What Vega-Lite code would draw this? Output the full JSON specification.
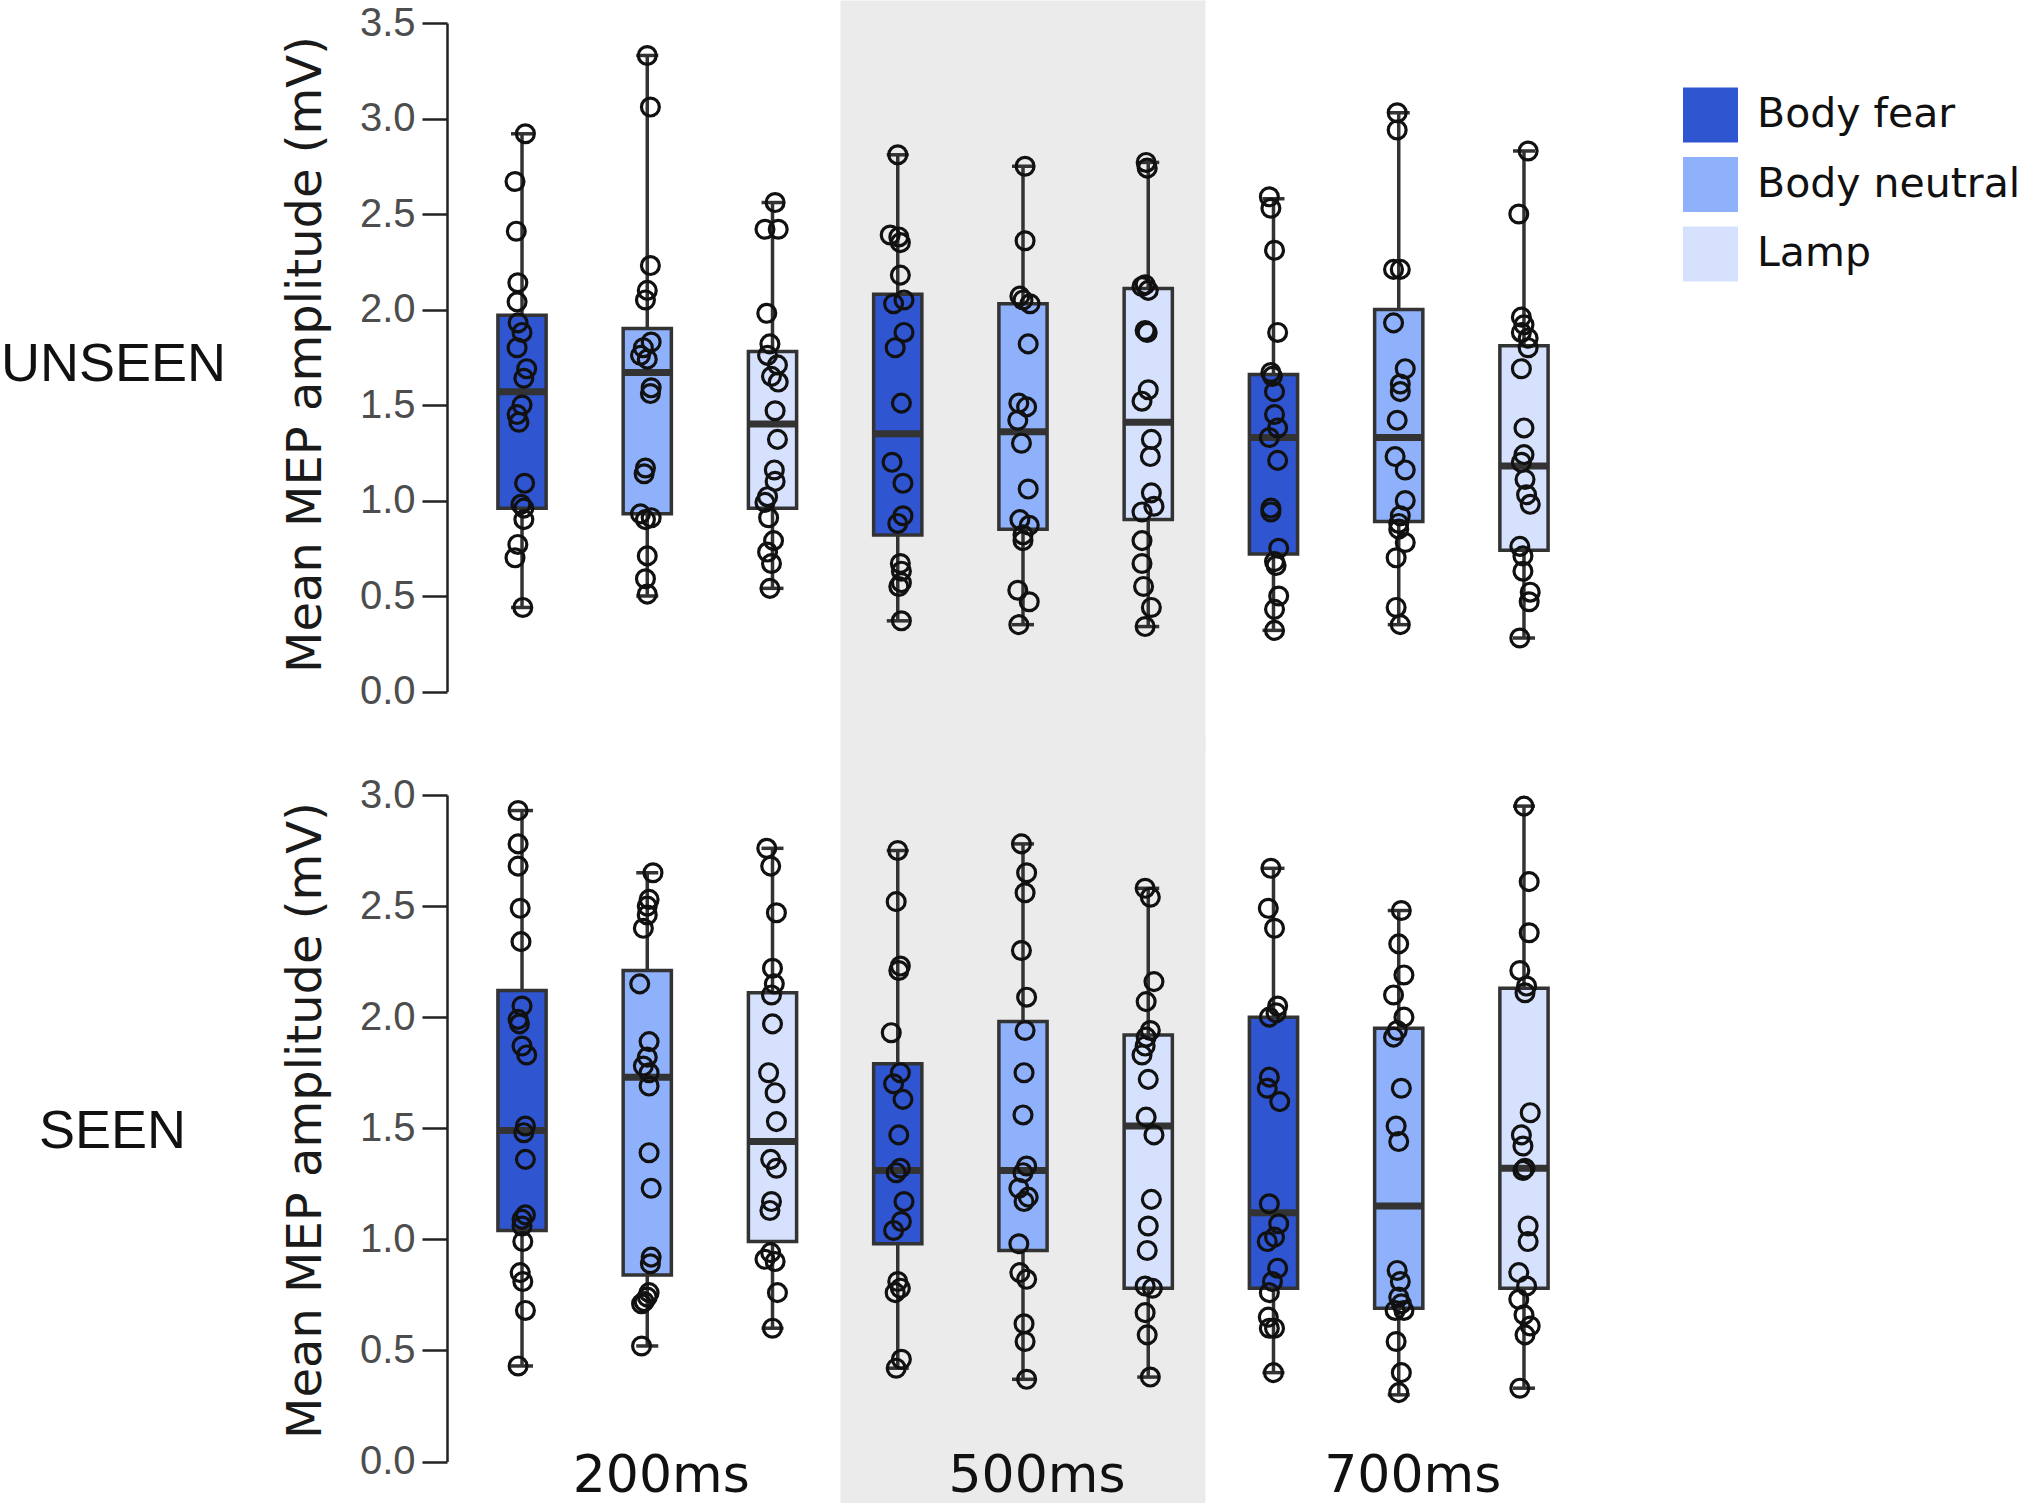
{
  "$schema": "https://vega.github.io/schema/vega-lite/v6.json",
  "padding": 0,
  "background": "#ffffff",
  "datasets": {
    "boxes": [
      {"vis": "UNSEEN", "delay": "200ms", "cond": "Body fear", "grp": "200ms Body fear", "lo": 0.44, "q1": 0.96, "med": 1.57, "q3": 1.97, "hi": 2.92},
      {"vis": "UNSEEN", "delay": "200ms", "cond": "Body neutral", "grp": "200ms Body neutral", "lo": 0.50, "q1": 0.93, "med": 1.67, "q3": 1.90, "hi": 3.33},
      {"vis": "UNSEEN", "delay": "200ms", "cond": "Lamp", "grp": "200ms Lamp", "lo": 0.54, "q1": 0.96, "med": 1.40, "q3": 1.78, "hi": 2.56},
      {"vis": "UNSEEN", "delay": "500ms", "cond": "Body fear", "grp": "500ms Body fear", "lo": 0.37, "q1": 0.82, "med": 1.35, "q3": 2.08, "hi": 2.81},
      {"vis": "UNSEEN", "delay": "500ms", "cond": "Body neutral", "grp": "500ms Body neutral", "lo": 0.35, "q1": 0.85, "med": 1.36, "q3": 2.03, "hi": 2.75},
      {"vis": "UNSEEN", "delay": "500ms", "cond": "Lamp", "grp": "500ms Lamp", "lo": 0.34, "q1": 0.90, "med": 1.41, "q3": 2.11, "hi": 2.77},
      {"vis": "UNSEEN", "delay": "700ms", "cond": "Body fear", "grp": "700ms Body fear", "lo": 0.32, "q1": 0.72, "med": 1.33, "q3": 1.66, "hi": 2.58},
      {"vis": "UNSEEN", "delay": "700ms", "cond": "Body neutral", "grp": "700ms Body neutral", "lo": 0.35, "q1": 0.89, "med": 1.33, "q3": 2.00, "hi": 3.03},
      {"vis": "UNSEEN", "delay": "700ms", "cond": "Lamp", "grp": "700ms Lamp", "lo": 0.28, "q1": 0.74, "med": 1.18, "q3": 1.81, "hi": 2.83},
      {"vis": "SEEN", "delay": "200ms", "cond": "Body fear", "grp": "200ms Body fear", "lo": 0.43, "q1": 1.04, "med": 1.49, "q3": 2.12, "hi": 2.93},
      {"vis": "SEEN", "delay": "200ms", "cond": "Body neutral", "grp": "200ms Body neutral", "lo": 0.52, "q1": 0.84, "med": 1.73, "q3": 2.21, "hi": 2.65},
      {"vis": "SEEN", "delay": "200ms", "cond": "Lamp", "grp": "200ms Lamp", "lo": 0.60, "q1": 0.99, "med": 1.44, "q3": 2.11, "hi": 2.76},
      {"vis": "SEEN", "delay": "500ms", "cond": "Body fear", "grp": "500ms Body fear", "lo": 0.42, "q1": 0.98, "med": 1.31, "q3": 1.79, "hi": 2.75},
      {"vis": "SEEN", "delay": "500ms", "cond": "Body neutral", "grp": "500ms Body neutral", "lo": 0.37, "q1": 0.95, "med": 1.31, "q3": 1.98, "hi": 2.78},
      {"vis": "SEEN", "delay": "500ms", "cond": "Lamp", "grp": "500ms Lamp", "lo": 0.38, "q1": 0.78, "med": 1.51, "q3": 1.92, "hi": 2.58},
      {"vis": "SEEN", "delay": "700ms", "cond": "Body fear", "grp": "700ms Body fear", "lo": 0.40, "q1": 0.78, "med": 1.12, "q3": 2.00, "hi": 2.67},
      {"vis": "SEEN", "delay": "700ms", "cond": "Body neutral", "grp": "700ms Body neutral", "lo": 0.30, "q1": 0.69, "med": 1.15, "q3": 1.95, "hi": 2.48},
      {"vis": "SEEN", "delay": "700ms", "cond": "Lamp", "grp": "700ms Lamp", "lo": 0.33, "q1": 0.78, "med": 1.32, "q3": 2.13, "hi": 2.95}
    ],
    "points": [
      {"vis": "UNSEEN", "grp": "200ms Body fear", "v": 2.92, "j": 0.13},
      {"vis": "UNSEEN", "grp": "200ms Body fear", "v": 2.67, "j": -0.27},
      {"vis": "UNSEEN", "grp": "200ms Body fear", "v": 2.41, "j": -0.22},
      {"vis": "UNSEEN", "grp": "200ms Body fear", "v": 2.14, "j": -0.16},
      {"vis": "UNSEEN", "grp": "200ms Body fear", "v": 2.04, "j": -0.19},
      {"vis": "UNSEEN", "grp": "200ms Body fear", "v": 1.93, "j": -0.15},
      {"vis": "UNSEEN", "grp": "200ms Body fear", "v": 1.88, "j": 0},
      {"vis": "UNSEEN", "grp": "200ms Body fear", "v": 1.80, "j": -0.19},
      {"vis": "UNSEEN", "grp": "200ms Body fear", "v": 1.69, "j": 0.18},
      {"vis": "UNSEEN", "grp": "200ms Body fear", "v": 1.64, "j": 0.07},
      {"vis": "UNSEEN", "grp": "200ms Body fear", "v": 1.50, "j": 0},
      {"vis": "UNSEEN", "grp": "200ms Body fear", "v": 1.45, "j": -0.19},
      {"vis": "UNSEEN", "grp": "200ms Body fear", "v": 1.41, "j": -0.12},
      {"vis": "UNSEEN", "grp": "200ms Body fear", "v": 1.09, "j": 0.1},
      {"vis": "UNSEEN", "grp": "200ms Body fear", "v": 0.98, "j": -0.04},
      {"vis": "UNSEEN", "grp": "200ms Body fear", "v": 0.96, "j": 0.07},
      {"vis": "UNSEEN", "grp": "200ms Body fear", "v": 0.90, "j": 0.07},
      {"vis": "UNSEEN", "grp": "200ms Body fear", "v": 0.77, "j": -0.16},
      {"vis": "UNSEEN", "grp": "200ms Body fear", "v": 0.70, "j": -0.27},
      {"vis": "UNSEEN", "grp": "200ms Body fear", "v": 0.44, "j": 0.03},
      {"vis": "UNSEEN", "grp": "200ms Body neutral", "v": 3.33, "j": 0},
      {"vis": "UNSEEN", "grp": "200ms Body neutral", "v": 3.06, "j": 0.12},
      {"vis": "UNSEEN", "grp": "200ms Body neutral", "v": 2.23, "j": 0.12},
      {"vis": "UNSEEN", "grp": "200ms Body neutral", "v": 2.10, "j": 0},
      {"vis": "UNSEEN", "grp": "200ms Body neutral", "v": 2.05, "j": -0.07},
      {"vis": "UNSEEN", "grp": "200ms Body neutral", "v": 1.83, "j": 0.15},
      {"vis": "UNSEEN", "grp": "200ms Body neutral", "v": 1.80, "j": -0.15},
      {"vis": "UNSEEN", "grp": "200ms Body neutral", "v": 1.76, "j": -0.26},
      {"vis": "UNSEEN", "grp": "200ms Body neutral", "v": 1.74, "j": 0},
      {"vis": "UNSEEN", "grp": "200ms Body neutral", "v": 1.59, "j": 0.15},
      {"vis": "UNSEEN", "grp": "200ms Body neutral", "v": 1.56, "j": 0.12},
      {"vis": "UNSEEN", "grp": "200ms Body neutral", "v": 1.17, "j": -0.07},
      {"vis": "UNSEEN", "grp": "200ms Body neutral", "v": 1.14, "j": -0.12},
      {"vis": "UNSEEN", "grp": "200ms Body neutral", "v": 0.93, "j": -0.26},
      {"vis": "UNSEEN", "grp": "200ms Body neutral", "v": 0.91, "j": 0.15},
      {"vis": "UNSEEN", "grp": "200ms Body neutral", "v": 0.90, "j": -0.07},
      {"vis": "UNSEEN", "grp": "200ms Body neutral", "v": 0.71, "j": 0},
      {"vis": "UNSEEN", "grp": "200ms Body neutral", "v": 0.59, "j": -0.07},
      {"vis": "UNSEEN", "grp": "200ms Body neutral", "v": 0.51, "j": 0},
      {"vis": "UNSEEN", "grp": "200ms Lamp", "v": 2.56, "j": 0.1},
      {"vis": "UNSEEN", "grp": "200ms Lamp", "v": 2.42, "j": -0.29},
      {"vis": "UNSEEN", "grp": "200ms Lamp", "v": 2.42, "j": 0.22},
      {"vis": "UNSEEN", "grp": "200ms Lamp", "v": 1.98, "j": -0.22},
      {"vis": "UNSEEN", "grp": "200ms Lamp", "v": 1.82, "j": -0.1},
      {"vis": "UNSEEN", "grp": "200ms Lamp", "v": 1.76, "j": -0.19},
      {"vis": "UNSEEN", "grp": "200ms Lamp", "v": 1.71, "j": 0.19},
      {"vis": "UNSEEN", "grp": "200ms Lamp", "v": 1.65, "j": -0.04},
      {"vis": "UNSEEN", "grp": "200ms Lamp", "v": 1.62, "j": 0.22},
      {"vis": "UNSEEN", "grp": "200ms Lamp", "v": 1.47, "j": 0.1},
      {"vis": "UNSEEN", "grp": "200ms Lamp", "v": 1.32, "j": 0.19},
      {"vis": "UNSEEN", "grp": "200ms Lamp", "v": 1.16, "j": 0.07},
      {"vis": "UNSEEN", "grp": "200ms Lamp", "v": 1.10, "j": 0.1},
      {"vis": "UNSEEN", "grp": "200ms Lamp", "v": 1.02, "j": -0.19},
      {"vis": "UNSEEN", "grp": "200ms Lamp", "v": 0.99, "j": -0.29},
      {"vis": "UNSEEN", "grp": "200ms Lamp", "v": 0.91, "j": -0.15},
      {"vis": "UNSEEN", "grp": "200ms Lamp", "v": 0.79, "j": 0.04},
      {"vis": "UNSEEN", "grp": "200ms Lamp", "v": 0.73, "j": -0.19},
      {"vis": "UNSEEN", "grp": "200ms Lamp", "v": 0.67, "j": -0.04},
      {"vis": "UNSEEN", "grp": "200ms Lamp", "v": 0.54, "j": -0.1},
      {"vis": "UNSEEN", "grp": "500ms Body fear", "v": 2.81, "j": 0},
      {"vis": "UNSEEN", "grp": "500ms Body fear", "v": 2.39, "j": -0.29},
      {"vis": "UNSEEN", "grp": "500ms Body fear", "v": 2.38, "j": 0.04},
      {"vis": "UNSEEN", "grp": "500ms Body fear", "v": 2.35, "j": 0.1},
      {"vis": "UNSEEN", "grp": "500ms Body fear", "v": 2.18, "j": 0.1},
      {"vis": "UNSEEN", "grp": "500ms Body fear", "v": 2.05, "j": 0.24},
      {"vis": "UNSEEN", "grp": "500ms Body fear", "v": 2.03, "j": -0.16},
      {"vis": "UNSEEN", "grp": "500ms Body fear", "v": 1.88, "j": 0.24},
      {"vis": "UNSEEN", "grp": "500ms Body fear", "v": 1.80, "j": -0.1},
      {"vis": "UNSEEN", "grp": "500ms Body fear", "v": 1.51, "j": 0.14},
      {"vis": "UNSEEN", "grp": "500ms Body fear", "v": 1.20, "j": -0.22},
      {"vis": "UNSEEN", "grp": "500ms Body fear", "v": 1.09, "j": 0.2},
      {"vis": "UNSEEN", "grp": "500ms Body fear", "v": 0.92, "j": 0.2},
      {"vis": "UNSEEN", "grp": "500ms Body fear", "v": 0.88, "j": 0},
      {"vis": "UNSEEN", "grp": "500ms Body fear", "v": 0.67, "j": 0.1},
      {"vis": "UNSEEN", "grp": "500ms Body fear", "v": 0.63, "j": 0.14},
      {"vis": "UNSEEN", "grp": "500ms Body fear", "v": 0.57, "j": 0.14},
      {"vis": "UNSEEN", "grp": "500ms Body fear", "v": 0.55, "j": 0.04},
      {"vis": "UNSEEN", "grp": "500ms Body fear", "v": 0.37, "j": 0.14},
      {"vis": "UNSEEN", "grp": "500ms Body neutral", "v": 2.75, "j": 0.08},
      {"vis": "UNSEEN", "grp": "500ms Body neutral", "v": 2.36, "j": 0.08},
      {"vis": "UNSEEN", "grp": "500ms Body neutral", "v": 2.07, "j": -0.12},
      {"vis": "UNSEEN", "grp": "500ms Body neutral", "v": 2.05, "j": 0},
      {"vis": "UNSEEN", "grp": "500ms Body neutral", "v": 2.03, "j": 0.27},
      {"vis": "UNSEEN", "grp": "500ms Body neutral", "v": 1.82, "j": 0.2},
      {"vis": "UNSEEN", "grp": "500ms Body neutral", "v": 1.51, "j": -0.16},
      {"vis": "UNSEEN", "grp": "500ms Body neutral", "v": 1.49, "j": 0.14},
      {"vis": "UNSEEN", "grp": "500ms Body neutral", "v": 1.42, "j": -0.2},
      {"vis": "UNSEEN", "grp": "500ms Body neutral", "v": 1.30, "j": -0.06},
      {"vis": "UNSEEN", "grp": "500ms Body neutral", "v": 1.06, "j": 0.2},
      {"vis": "UNSEEN", "grp": "500ms Body neutral", "v": 0.90, "j": -0.12},
      {"vis": "UNSEEN", "grp": "500ms Body neutral", "v": 0.87, "j": 0.24},
      {"vis": "UNSEEN", "grp": "500ms Body neutral", "v": 0.82, "j": 0},
      {"vis": "UNSEEN", "grp": "500ms Body neutral", "v": 0.79, "j": 0},
      {"vis": "UNSEEN", "grp": "500ms Body neutral", "v": 0.53, "j": -0.2},
      {"vis": "UNSEEN", "grp": "500ms Body neutral", "v": 0.47, "j": 0.24},
      {"vis": "UNSEEN", "grp": "500ms Body neutral", "v": 0.35, "j": -0.16},
      {"vis": "UNSEEN", "grp": "500ms Lamp", "v": 2.77, "j": -0.08},
      {"vis": "UNSEEN", "grp": "500ms Lamp", "v": 2.74, "j": -0.04},
      {"vis": "UNSEEN", "grp": "500ms Lamp", "v": 2.13, "j": -0.12},
      {"vis": "UNSEEN", "grp": "500ms Lamp", "v": 2.12, "j": -0.24},
      {"vis": "UNSEEN", "grp": "500ms Lamp", "v": 2.10, "j": 0},
      {"vis": "UNSEEN", "grp": "500ms Lamp", "v": 1.89, "j": -0.12},
      {"vis": "UNSEEN", "grp": "500ms Lamp", "v": 1.88, "j": -0.04},
      {"vis": "UNSEEN", "grp": "500ms Lamp", "v": 1.58, "j": 0},
      {"vis": "UNSEEN", "grp": "500ms Lamp", "v": 1.52, "j": -0.24},
      {"vis": "UNSEEN", "grp": "500ms Lamp", "v": 1.32, "j": 0.12},
      {"vis": "UNSEEN", "grp": "500ms Lamp", "v": 1.23, "j": 0.08},
      {"vis": "UNSEEN", "grp": "500ms Lamp", "v": 1.04, "j": 0.12},
      {"vis": "UNSEEN", "grp": "500ms Lamp", "v": 0.97, "j": 0.22},
      {"vis": "UNSEEN", "grp": "500ms Lamp", "v": 0.94, "j": -0.24},
      {"vis": "UNSEEN", "grp": "500ms Lamp", "v": 0.79, "j": -0.24},
      {"vis": "UNSEEN", "grp": "500ms Lamp", "v": 0.67, "j": -0.24},
      {"vis": "UNSEEN", "grp": "500ms Lamp", "v": 0.55, "j": -0.18},
      {"vis": "UNSEEN", "grp": "500ms Lamp", "v": 0.44, "j": 0.12},
      {"vis": "UNSEEN", "grp": "500ms Lamp", "v": 0.34, "j": -0.12},
      {"vis": "UNSEEN", "grp": "700ms Body fear", "v": 2.59, "j": -0.16},
      {"vis": "UNSEEN", "grp": "700ms Body fear", "v": 2.53, "j": -0.1},
      {"vis": "UNSEEN", "grp": "700ms Body fear", "v": 2.31, "j": 0.04},
      {"vis": "UNSEEN", "grp": "700ms Body fear", "v": 1.88, "j": 0.16},
      {"vis": "UNSEEN", "grp": "700ms Body fear", "v": 1.67, "j": -0.1},
      {"vis": "UNSEEN", "grp": "700ms Body fear", "v": 1.65, "j": -0.04},
      {"vis": "UNSEEN", "grp": "700ms Body fear", "v": 1.57, "j": 0.04},
      {"vis": "UNSEEN", "grp": "700ms Body fear", "v": 1.45, "j": 0.04},
      {"vis": "UNSEEN", "grp": "700ms Body fear", "v": 1.38, "j": 0.16},
      {"vis": "UNSEEN", "grp": "700ms Body fear", "v": 1.33, "j": -0.16},
      {"vis": "UNSEEN", "grp": "700ms Body fear", "v": 1.21, "j": 0.16},
      {"vis": "UNSEEN", "grp": "700ms Body fear", "v": 0.96, "j": -0.1},
      {"vis": "UNSEEN", "grp": "700ms Body fear", "v": 0.94, "j": -0.1},
      {"vis": "UNSEEN", "grp": "700ms Body fear", "v": 0.75, "j": 0.2},
      {"vis": "UNSEEN", "grp": "700ms Body fear", "v": 0.68, "j": 0.04},
      {"vis": "UNSEEN", "grp": "700ms Body fear", "v": 0.66, "j": 0.1},
      {"vis": "UNSEEN", "grp": "700ms Body fear", "v": 0.50, "j": 0.2},
      {"vis": "UNSEEN", "grp": "700ms Body fear", "v": 0.43, "j": 0.04},
      {"vis": "UNSEEN", "grp": "700ms Body fear", "v": 0.32, "j": 0.04},
      {"vis": "UNSEEN", "grp": "700ms Body neutral", "v": 3.03, "j": -0.06},
      {"vis": "UNSEEN", "grp": "700ms Body neutral", "v": 2.94, "j": -0.06},
      {"vis": "UNSEEN", "grp": "700ms Body neutral", "v": 2.21, "j": -0.2},
      {"vis": "UNSEEN", "grp": "700ms Body neutral", "v": 2.21, "j": 0.06},
      {"vis": "UNSEEN", "grp": "700ms Body neutral", "v": 1.93, "j": -0.2},
      {"vis": "UNSEEN", "grp": "700ms Body neutral", "v": 1.69, "j": 0.25},
      {"vis": "UNSEEN", "grp": "700ms Body neutral", "v": 1.61, "j": 0.06},
      {"vis": "UNSEEN", "grp": "700ms Body neutral", "v": 1.57, "j": 0.06},
      {"vis": "UNSEEN", "grp": "700ms Body neutral", "v": 1.42, "j": -0.06},
      {"vis": "UNSEEN", "grp": "700ms Body neutral", "v": 1.23, "j": -0.14},
      {"vis": "UNSEEN", "grp": "700ms Body neutral", "v": 1.16, "j": 0.25},
      {"vis": "UNSEEN", "grp": "700ms Body neutral", "v": 1.00, "j": 0.25},
      {"vis": "UNSEEN", "grp": "700ms Body neutral", "v": 0.92, "j": 0.06},
      {"vis": "UNSEEN", "grp": "700ms Body neutral", "v": 0.88, "j": 0},
      {"vis": "UNSEEN", "grp": "700ms Body neutral", "v": 0.85, "j": 0},
      {"vis": "UNSEEN", "grp": "700ms Body neutral", "v": 0.78, "j": 0.25},
      {"vis": "UNSEEN", "grp": "700ms Body neutral", "v": 0.70, "j": -0.1},
      {"vis": "UNSEEN", "grp": "700ms Body neutral", "v": 0.44, "j": -0.1},
      {"vis": "UNSEEN", "grp": "700ms Body neutral", "v": 0.35, "j": 0.06},
      {"vis": "UNSEEN", "grp": "700ms Lamp", "v": 2.83, "j": 0.16},
      {"vis": "UNSEEN", "grp": "700ms Lamp", "v": 2.50, "j": -0.2},
      {"vis": "UNSEEN", "grp": "700ms Lamp", "v": 1.96, "j": -0.1},
      {"vis": "UNSEEN", "grp": "700ms Lamp", "v": 1.92, "j": 0},
      {"vis": "UNSEEN", "grp": "700ms Lamp", "v": 1.88, "j": -0.1},
      {"vis": "UNSEEN", "grp": "700ms Lamp", "v": 1.85, "j": 0.16},
      {"vis": "UNSEEN", "grp": "700ms Lamp", "v": 1.80, "j": 0.16},
      {"vis": "UNSEEN", "grp": "700ms Lamp", "v": 1.69, "j": -0.1},
      {"vis": "UNSEEN", "grp": "700ms Lamp", "v": 1.38, "j": 0},
      {"vis": "UNSEEN", "grp": "700ms Lamp", "v": 1.24, "j": 0},
      {"vis": "UNSEEN", "grp": "700ms Lamp", "v": 1.20, "j": -0.1},
      {"vis": "UNSEEN", "grp": "700ms Lamp", "v": 1.11, "j": 0.04},
      {"vis": "UNSEEN", "grp": "700ms Lamp", "v": 1.03, "j": 0.1},
      {"vis": "UNSEEN", "grp": "700ms Lamp", "v": 0.98, "j": 0.24},
      {"vis": "UNSEEN", "grp": "700ms Lamp", "v": 0.76, "j": -0.16},
      {"vis": "UNSEEN", "grp": "700ms Lamp", "v": 0.71, "j": -0.04},
      {"vis": "UNSEEN", "grp": "700ms Lamp", "v": 0.63, "j": -0.04},
      {"vis": "UNSEEN", "grp": "700ms Lamp", "v": 0.52, "j": 0.24},
      {"vis": "UNSEEN", "grp": "700ms Lamp", "v": 0.47, "j": 0.2},
      {"vis": "UNSEEN", "grp": "700ms Lamp", "v": 0.28, "j": -0.16},
      {"vis": "SEEN", "grp": "200ms Body fear", "v": 2.93, "j": -0.15},
      {"vis": "SEEN", "grp": "200ms Body fear", "v": 2.78, "j": -0.15},
      {"vis": "SEEN", "grp": "200ms Body fear", "v": 2.68, "j": -0.15},
      {"vis": "SEEN", "grp": "200ms Body fear", "v": 2.49, "j": -0.07},
      {"vis": "SEEN", "grp": "200ms Body fear", "v": 2.34, "j": -0.04},
      {"vis": "SEEN", "grp": "200ms Body fear", "v": 2.05, "j": 0},
      {"vis": "SEEN", "grp": "200ms Body fear", "v": 1.99, "j": -0.15},
      {"vis": "SEEN", "grp": "200ms Body fear", "v": 1.97, "j": -0.1},
      {"vis": "SEEN", "grp": "200ms Body fear", "v": 1.87, "j": 0},
      {"vis": "SEEN", "grp": "200ms Body fear", "v": 1.83, "j": 0.18},
      {"vis": "SEEN", "grp": "200ms Body fear", "v": 1.51, "j": 0.13},
      {"vis": "SEEN", "grp": "200ms Body fear", "v": 1.48, "j": 0.07},
      {"vis": "SEEN", "grp": "200ms Body fear", "v": 1.36, "j": 0.13},
      {"vis": "SEEN", "grp": "200ms Body fear", "v": 1.11, "j": 0.13},
      {"vis": "SEEN", "grp": "200ms Body fear", "v": 1.09, "j": 0},
      {"vis": "SEEN", "grp": "200ms Body fear", "v": 1.06, "j": 0},
      {"vis": "SEEN", "grp": "200ms Body fear", "v": 0.99, "j": 0.03},
      {"vis": "SEEN", "grp": "200ms Body fear", "v": 0.85, "j": -0.07},
      {"vis": "SEEN", "grp": "200ms Body fear", "v": 0.81, "j": 0.03},
      {"vis": "SEEN", "grp": "200ms Body fear", "v": 0.68, "j": 0.13},
      {"vis": "SEEN", "grp": "200ms Body fear", "v": 0.43, "j": -0.15},
      {"vis": "SEEN", "grp": "200ms Body neutral", "v": 2.65, "j": 0.22},
      {"vis": "SEEN", "grp": "200ms Body neutral", "v": 2.53, "j": 0.07},
      {"vis": "SEEN", "grp": "200ms Body neutral", "v": 2.50, "j": 0},
      {"vis": "SEEN", "grp": "200ms Body neutral", "v": 2.46, "j": 0},
      {"vis": "SEEN", "grp": "200ms Body neutral", "v": 2.40, "j": -0.15},
      {"vis": "SEEN", "grp": "200ms Body neutral", "v": 2.15, "j": -0.29},
      {"vis": "SEEN", "grp": "200ms Body neutral", "v": 1.89, "j": 0.07},
      {"vis": "SEEN", "grp": "200ms Body neutral", "v": 1.82, "j": 0},
      {"vis": "SEEN", "grp": "200ms Body neutral", "v": 1.78, "j": -0.15},
      {"vis": "SEEN", "grp": "200ms Body neutral", "v": 1.75, "j": 0.07},
      {"vis": "SEEN", "grp": "200ms Body neutral", "v": 1.69, "j": 0.07},
      {"vis": "SEEN", "grp": "200ms Body neutral", "v": 1.39, "j": 0.07},
      {"vis": "SEEN", "grp": "200ms Body neutral", "v": 1.23, "j": 0.15},
      {"vis": "SEEN", "grp": "200ms Body neutral", "v": 0.92, "j": 0.15},
      {"vis": "SEEN", "grp": "200ms Body neutral", "v": 0.89, "j": 0.12},
      {"vis": "SEEN", "grp": "200ms Body neutral", "v": 0.76, "j": 0.07},
      {"vis": "SEEN", "grp": "200ms Body neutral", "v": 0.74, "j": 0},
      {"vis": "SEEN", "grp": "200ms Body neutral", "v": 0.72, "j": -0.12},
      {"vis": "SEEN", "grp": "200ms Body neutral", "v": 0.71, "j": -0.22},
      {"vis": "SEEN", "grp": "200ms Body neutral", "v": 0.52, "j": -0.22},
      {"vis": "SEEN", "grp": "200ms Lamp", "v": 2.76, "j": -0.22},
      {"vis": "SEEN", "grp": "200ms Lamp", "v": 2.68, "j": -0.07},
      {"vis": "SEEN", "grp": "200ms Lamp", "v": 2.47, "j": 0.15},
      {"vis": "SEEN", "grp": "200ms Lamp", "v": 2.22, "j": 0},
      {"vis": "SEEN", "grp": "200ms Lamp", "v": 2.15, "j": 0.07},
      {"vis": "SEEN", "grp": "200ms Lamp", "v": 2.10, "j": -0.04},
      {"vis": "SEEN", "grp": "200ms Lamp", "v": 1.97, "j": 0},
      {"vis": "SEEN", "grp": "200ms Lamp", "v": 1.75, "j": -0.15},
      {"vis": "SEEN", "grp": "200ms Lamp", "v": 1.66, "j": 0.1},
      {"vis": "SEEN", "grp": "200ms Lamp", "v": 1.53, "j": 0.15},
      {"vis": "SEEN", "grp": "200ms Lamp", "v": 1.36, "j": -0.07},
      {"vis": "SEEN", "grp": "200ms Lamp", "v": 1.32, "j": 0.15},
      {"vis": "SEEN", "grp": "200ms Lamp", "v": 1.17, "j": -0.04},
      {"vis": "SEEN", "grp": "200ms Lamp", "v": 1.13, "j": -0.1},
      {"vis": "SEEN", "grp": "200ms Lamp", "v": 0.94, "j": -0.07},
      {"vis": "SEEN", "grp": "200ms Lamp", "v": 0.91, "j": -0.29},
      {"vis": "SEEN", "grp": "200ms Lamp", "v": 0.90, "j": 0.1},
      {"vis": "SEEN", "grp": "200ms Lamp", "v": 0.76, "j": 0.19},
      {"vis": "SEEN", "grp": "200ms Lamp", "v": 0.60, "j": 0},
      {"vis": "SEEN", "grp": "500ms Body fear", "v": 2.75, "j": 0},
      {"vis": "SEEN", "grp": "500ms Body fear", "v": 2.52, "j": -0.06},
      {"vis": "SEEN", "grp": "500ms Body fear", "v": 2.23, "j": 0.1},
      {"vis": "SEEN", "grp": "500ms Body fear", "v": 2.21, "j": 0.04},
      {"vis": "SEEN", "grp": "500ms Body fear", "v": 1.93, "j": -0.25},
      {"vis": "SEEN", "grp": "500ms Body fear", "v": 1.75, "j": 0.1},
      {"vis": "SEEN", "grp": "500ms Body fear", "v": 1.70, "j": -0.16},
      {"vis": "SEEN", "grp": "500ms Body fear", "v": 1.63, "j": 0.2},
      {"vis": "SEEN", "grp": "500ms Body fear", "v": 1.47, "j": 0.04},
      {"vis": "SEEN", "grp": "500ms Body fear", "v": 1.32, "j": 0.1},
      {"vis": "SEEN", "grp": "500ms Body fear", "v": 1.30, "j": -0.06},
      {"vis": "SEEN", "grp": "500ms Body fear", "v": 1.17, "j": 0.24},
      {"vis": "SEEN", "grp": "500ms Body fear", "v": 1.08, "j": 0.14},
      {"vis": "SEEN", "grp": "500ms Body fear", "v": 1.04, "j": -0.16},
      {"vis": "SEEN", "grp": "500ms Body fear", "v": 0.81, "j": 0},
      {"vis": "SEEN", "grp": "500ms Body fear", "v": 0.76, "j": -0.1},
      {"vis": "SEEN", "grp": "500ms Body fear", "v": 0.78, "j": 0.1},
      {"vis": "SEEN", "grp": "500ms Body fear", "v": 0.46, "j": 0.14},
      {"vis": "SEEN", "grp": "500ms Body fear", "v": 0.42, "j": -0.06},
      {"vis": "SEEN", "grp": "500ms Body neutral", "v": 2.78, "j": -0.06},
      {"vis": "SEEN", "grp": "500ms Body neutral", "v": 2.65, "j": 0.14},
      {"vis": "SEEN", "grp": "500ms Body neutral", "v": 2.56, "j": 0.08},
      {"vis": "SEEN", "grp": "500ms Body neutral", "v": 2.30, "j": -0.06},
      {"vis": "SEEN", "grp": "500ms Body neutral", "v": 2.09, "j": 0.14},
      {"vis": "SEEN", "grp": "500ms Body neutral", "v": 1.94, "j": 0.08},
      {"vis": "SEEN", "grp": "500ms Body neutral", "v": 1.75, "j": 0.04},
      {"vis": "SEEN", "grp": "500ms Body neutral", "v": 1.56, "j": 0},
      {"vis": "SEEN", "grp": "500ms Body neutral", "v": 1.33, "j": 0.14},
      {"vis": "SEEN", "grp": "500ms Body neutral", "v": 1.30, "j": 0},
      {"vis": "SEEN", "grp": "500ms Body neutral", "v": 1.23, "j": -0.16},
      {"vis": "SEEN", "grp": "500ms Body neutral", "v": 1.19, "j": 0.2},
      {"vis": "SEEN", "grp": "500ms Body neutral", "v": 1.17, "j": 0.04},
      {"vis": "SEEN", "grp": "500ms Body neutral", "v": 0.98, "j": -0.16},
      {"vis": "SEEN", "grp": "500ms Body neutral", "v": 0.85, "j": -0.12},
      {"vis": "SEEN", "grp": "500ms Body neutral", "v": 0.82, "j": 0.14},
      {"vis": "SEEN", "grp": "500ms Body neutral", "v": 0.62, "j": 0.04},
      {"vis": "SEEN", "grp": "500ms Body neutral", "v": 0.54, "j": 0.08},
      {"vis": "SEEN", "grp": "500ms Body neutral", "v": 0.37, "j": 0.14},
      {"vis": "SEEN", "grp": "500ms Lamp", "v": 2.58, "j": -0.12},
      {"vis": "SEEN", "grp": "500ms Lamp", "v": 2.54, "j": 0.08},
      {"vis": "SEEN", "grp": "500ms Lamp", "v": 2.16, "j": 0.22},
      {"vis": "SEEN", "grp": "500ms Lamp", "v": 2.07, "j": -0.08},
      {"vis": "SEEN", "grp": "500ms Lamp", "v": 1.94, "j": 0.08},
      {"vis": "SEEN", "grp": "500ms Lamp", "v": 1.91, "j": -0.08},
      {"vis": "SEEN", "grp": "500ms Lamp", "v": 1.87, "j": -0.12},
      {"vis": "SEEN", "grp": "500ms Lamp", "v": 1.83, "j": -0.24},
      {"vis": "SEEN", "grp": "500ms Lamp", "v": 1.72, "j": 0},
      {"vis": "SEEN", "grp": "500ms Lamp", "v": 1.55, "j": -0.08},
      {"vis": "SEEN", "grp": "500ms Lamp", "v": 1.47, "j": 0.22},
      {"vis": "SEEN", "grp": "500ms Lamp", "v": 1.18, "j": 0.12},
      {"vis": "SEEN", "grp": "500ms Lamp", "v": 1.06, "j": 0},
      {"vis": "SEEN", "grp": "500ms Lamp", "v": 0.95, "j": -0.04},
      {"vis": "SEEN", "grp": "500ms Lamp", "v": 0.79, "j": -0.12},
      {"vis": "SEEN", "grp": "500ms Lamp", "v": 0.78, "j": 0.16},
      {"vis": "SEEN", "grp": "500ms Lamp", "v": 0.67, "j": -0.12},
      {"vis": "SEEN", "grp": "500ms Lamp", "v": 0.57, "j": -0.04},
      {"vis": "SEEN", "grp": "500ms Lamp", "v": 0.38, "j": 0.08},
      {"vis": "SEEN", "grp": "700ms Body fear", "v": 2.67, "j": -0.1},
      {"vis": "SEEN", "grp": "700ms Body fear", "v": 2.49, "j": -0.2},
      {"vis": "SEEN", "grp": "700ms Body fear", "v": 2.40, "j": 0.04},
      {"vis": "SEEN", "grp": "700ms Body fear", "v": 2.05, "j": 0.16},
      {"vis": "SEEN", "grp": "700ms Body fear", "v": 2.02, "j": 0.1},
      {"vis": "SEEN", "grp": "700ms Body fear", "v": 2.00, "j": -0.16},
      {"vis": "SEEN", "grp": "700ms Body fear", "v": 1.73, "j": -0.16},
      {"vis": "SEEN", "grp": "700ms Body fear", "v": 1.68, "j": -0.24},
      {"vis": "SEEN", "grp": "700ms Body fear", "v": 1.62, "j": 0.24},
      {"vis": "SEEN", "grp": "700ms Body fear", "v": 1.16, "j": -0.16},
      {"vis": "SEEN", "grp": "700ms Body fear", "v": 1.07, "j": 0.2},
      {"vis": "SEEN", "grp": "700ms Body fear", "v": 1.01, "j": 0.04},
      {"vis": "SEEN", "grp": "700ms Body fear", "v": 0.99, "j": -0.24},
      {"vis": "SEEN", "grp": "700ms Body fear", "v": 0.87, "j": 0.16},
      {"vis": "SEEN", "grp": "700ms Body fear", "v": 0.81, "j": -0.04},
      {"vis": "SEEN", "grp": "700ms Body fear", "v": 0.76, "j": -0.16},
      {"vis": "SEEN", "grp": "700ms Body fear", "v": 0.65, "j": -0.2},
      {"vis": "SEEN", "grp": "700ms Body fear", "v": 0.60, "j": 0.04},
      {"vis": "SEEN", "grp": "700ms Body fear", "v": 0.60, "j": -0.16},
      {"vis": "SEEN", "grp": "700ms Body fear", "v": 0.40, "j": 0},
      {"vis": "SEEN", "grp": "700ms Body neutral", "v": 2.48, "j": 0.1},
      {"vis": "SEEN", "grp": "700ms Body neutral", "v": 2.33, "j": 0},
      {"vis": "SEEN", "grp": "700ms Body neutral", "v": 2.19, "j": 0.2},
      {"vis": "SEEN", "grp": "700ms Body neutral", "v": 2.10, "j": -0.2},
      {"vis": "SEEN", "grp": "700ms Body neutral", "v": 2.00, "j": 0.2},
      {"vis": "SEEN", "grp": "700ms Body neutral", "v": 1.94, "j": -0.06},
      {"vis": "SEEN", "grp": "700ms Body neutral", "v": 1.91, "j": -0.2},
      {"vis": "SEEN", "grp": "700ms Body neutral", "v": 1.68, "j": 0.1},
      {"vis": "SEEN", "grp": "700ms Body neutral", "v": 1.51, "j": -0.1},
      {"vis": "SEEN", "grp": "700ms Body neutral", "v": 1.44, "j": 0},
      {"vis": "SEEN", "grp": "700ms Body neutral", "v": 0.86, "j": -0.06},
      {"vis": "SEEN", "grp": "700ms Body neutral", "v": 0.81, "j": 0.06},
      {"vis": "SEEN", "grp": "700ms Body neutral", "v": 0.74, "j": 0},
      {"vis": "SEEN", "grp": "700ms Body neutral", "v": 0.71, "j": 0.1},
      {"vis": "SEEN", "grp": "700ms Body neutral", "v": 0.68, "j": -0.14},
      {"vis": "SEEN", "grp": "700ms Body neutral", "v": 0.68, "j": 0.2},
      {"vis": "SEEN", "grp": "700ms Body neutral", "v": 0.54, "j": -0.1},
      {"vis": "SEEN", "grp": "700ms Body neutral", "v": 0.40, "j": 0.1},
      {"vis": "SEEN", "grp": "700ms Body neutral", "v": 0.31, "j": 0},
      {"vis": "SEEN", "grp": "700ms Lamp", "v": 2.95, "j": 0},
      {"vis": "SEEN", "grp": "700ms Lamp", "v": 2.61, "j": 0.2},
      {"vis": "SEEN", "grp": "700ms Lamp", "v": 2.38, "j": 0.2},
      {"vis": "SEEN", "grp": "700ms Lamp", "v": 2.21, "j": -0.16},
      {"vis": "SEEN", "grp": "700ms Lamp", "v": 2.14, "j": 0.1},
      {"vis": "SEEN", "grp": "700ms Lamp", "v": 2.11, "j": 0.04},
      {"vis": "SEEN", "grp": "700ms Lamp", "v": 1.57, "j": 0.24},
      {"vis": "SEEN", "grp": "700ms Lamp", "v": 1.47, "j": -0.1},
      {"vis": "SEEN", "grp": "700ms Lamp", "v": 1.42, "j": -0.04},
      {"vis": "SEEN", "grp": "700ms Lamp", "v": 1.32, "j": 0.04},
      {"vis": "SEEN", "grp": "700ms Lamp", "v": 1.31, "j": -0.04},
      {"vis": "SEEN", "grp": "700ms Lamp", "v": 1.06, "j": 0.16},
      {"vis": "SEEN", "grp": "700ms Lamp", "v": 0.99, "j": 0.16},
      {"vis": "SEEN", "grp": "700ms Lamp", "v": 0.85, "j": -0.2},
      {"vis": "SEEN", "grp": "700ms Lamp", "v": 0.79, "j": 0.1},
      {"vis": "SEEN", "grp": "700ms Lamp", "v": 0.73, "j": -0.2},
      {"vis": "SEEN", "grp": "700ms Lamp", "v": 0.66, "j": 0},
      {"vis": "SEEN", "grp": "700ms Lamp", "v": 0.61, "j": 0.24},
      {"vis": "SEEN", "grp": "700ms Lamp", "v": 0.57, "j": 0.04},
      {"vis": "SEEN", "grp": "700ms Lamp", "v": 0.33, "j": -0.16}
    ]
  },
  "vconcat": [
    {
      "width": 1152,
      "height": 668.5,
      "title": {"text": "UNSEEN", "orient": "left", "anchor": "middle", "frame": "group", "angle": 0, "align": "left", "baseline": "middle", "offset": 56, "dy": 8, "font": "Liberation Sans", "fontSize": 54, "fontWeight": "normal", "color": "#111111"},
      "encoding": {
        "x": {"field": "grp", "type": "nominal", "axis": null,
          "scale": {"domain": ["200ms Body fear", "200ms Body neutral", "200ms Lamp", "500ms Body fear", "500ms Body neutral", "500ms Lamp", "700ms Body fear", "700ms Body neutral", "700ms Lamp"], "paddingInner": 0, "paddingOuter": 0.099}}
      },
      "layer": [
        {
          "data": {"name": "boxes"},
          "transform": [{"filter": "datum.vis === 'UNSEEN' && datum.grp === '500ms Body neutral'"}],
          "mark": {"type": "bar", "color": "#ebebeb", "width": {"band": 2.914}},
          "encoding": {"y": {"datum": 3.618, "title": "Mean MEP amplitude (mV)"}, "y2": {"datum": -0.3}}
        },
        {
          "data": {"name": "boxes"},
          "transform": [{"filter": "datum.vis === 'UNSEEN'"}],
          "mark": {"type": "rule", "color": "#333333", "strokeWidth": 3.5},
          "encoding": {
            "y": {"field": "lo", "type": "quantitative", "title": "Mean MEP amplitude (mV)",
              "scale": {"domain": [0, 3.5], "nice": false, "zero": false},
              "axis": {"values": [0, 0.5, 1, 1.5, 2, 2.5, 3, 3.5], "format": ".1f", "titleY": 331}},
            "y2": {"field": "hi"}
          }
        },
        {
          "data": {"name": "boxes"},
          "transform": [{"filter": "datum.vis === 'UNSEEN'"}],
          "mark": {"type": "tick", "orient": "horizontal", "color": "#333333", "opacity": 1, "size": 22, "thickness": 3.5},
          "encoding": {"y": {"field": "lo", "type": "quantitative", "title": "Mean MEP amplitude (mV)"}}
        },
        {
          "data": {"name": "boxes"},
          "transform": [{"filter": "datum.vis === 'UNSEEN'"}],
          "mark": {"type": "tick", "orient": "horizontal", "color": "#333333", "opacity": 1, "size": 22, "thickness": 3.5},
          "encoding": {"y": {"field": "hi", "type": "quantitative", "title": "Mean MEP amplitude (mV)"}}
        },
        {
          "data": {"name": "boxes"},
          "transform": [{"filter": "datum.vis === 'UNSEEN'"}],
          "mark": {"type": "bar", "width": {"band": 0.385}, "stroke": "#333333", "strokeWidth": 3.5, "opacity": 1},
          "encoding": {
            "y": {"field": "q1", "type": "quantitative", "title": "Mean MEP amplitude (mV)"},
            "y2": {"field": "q3"},
            "color": {"field": "cond", "type": "nominal",
              "scale": {"domain": ["Body fear", "Body neutral", "Lamp"], "range": ["#2f55d1", "#8fb0fa", "#d6e2fd"]},
              "legend": {"orient": "none", "legendX": 1236, "legendY": 64.5, "title": null, "symbolType": "square", "symbolSize": 3025, "symbolStrokeWidth": 0, "symbolStrokeColor": "transparent", "symbolOpacity": 1, "labelFont": "DejaVu Sans", "labelFontSize": 41, "labelColor": "#111111", "labelOffset": 19, "labelLimit": 600, "rowPadding": 14.5, "padding": 0}}
          }
        },
        {
          "data": {"name": "boxes"},
          "transform": [{"filter": "datum.vis === 'UNSEEN'"}],
          "mark": {"type": "tick", "orient": "horizontal", "color": "#333333", "opacity": 1, "size": 48, "thickness": 7},
          "encoding": {"y": {"field": "med", "type": "quantitative", "title": "Mean MEP amplitude (mV)"}}
        },
        {
          "data": {"name": "points"},
          "transform": [{"filter": "datum.vis === 'UNSEEN'"}],
          "mark": {"type": "point", "shape": "circle", "filled": false, "stroke": "#111111", "strokeWidth": 3.2, "size": 320, "opacity": 1, "xOffset": {"expr": "datum.j * 26"}},
          "encoding": {"y": {"field": "v", "type": "quantitative", "title": "Mean MEP amplitude (mV)"}}
        }
      ]
    },
    {
      "width": 1152,
      "height": 666.5,
      "title": {"text": "SEEN", "orient": "left", "anchor": "middle", "frame": "group", "angle": 0, "align": "left", "baseline": "middle", "offset": 96, "dy": 4, "font": "Liberation Sans", "fontSize": 54, "fontWeight": "normal", "color": "#111111"},
      "encoding": {
        "x": {"field": "grp", "type": "nominal",
          "scale": {"domain": ["200ms Body fear", "200ms Body neutral", "200ms Lamp", "500ms Body fear", "500ms Body neutral", "500ms Lamp", "700ms Body fear", "700ms Body neutral", "700ms Lamp"], "paddingInner": 0, "paddingOuter": 0.099},
          "axis": {"values": ["200ms Body neutral", "500ms Body neutral", "700ms Body neutral"], "labelExpr": "split(datum.label, ' ')[0]", "title": null, "domain": false, "ticks": false, "tickSize": 0, "labelAngle": 0, "labelFont": "DejaVu Sans", "labelFontSize": 52, "labelColor": "#111111", "labelPadding": 29.5, "labelBaseline": "alphabetic", "labelOffset": 14, "zindex": 1, "labelOverlap": false, "labelFlush": false}}
      },
      "layer": [
        {
          "data": {"name": "boxes"},
          "transform": [{"filter": "datum.vis === 'SEEN' && datum.grp === '500ms Body neutral'"}],
          "mark": {"type": "bar", "color": "#ebebeb", "width": {"band": 2.914}},
          "encoding": {"y": {"datum": 3.25, "title": "Mean MEP amplitude (mV)"}, "y2": {"datum": -0.191}}
        },
        {
          "data": {"name": "boxes"},
          "transform": [{"filter": "datum.vis === 'SEEN'"}],
          "mark": {"type": "rule", "color": "#333333", "strokeWidth": 3.5},
          "encoding": {
            "y": {"field": "lo", "type": "quantitative", "title": "Mean MEP amplitude (mV)",
              "scale": {"domain": [0, 3], "nice": false, "zero": false},
              "axis": {"values": [0, 0.5, 1, 1.5, 2, 2.5, 3], "format": ".1f", "titleY": 325}},
            "y2": {"field": "hi"}
          }
        },
        {
          "data": {"name": "boxes"},
          "transform": [{"filter": "datum.vis === 'SEEN'"}],
          "mark": {"type": "tick", "orient": "horizontal", "color": "#333333", "opacity": 1, "size": 22, "thickness": 3.5},
          "encoding": {"y": {"field": "lo", "type": "quantitative", "title": "Mean MEP amplitude (mV)"}}
        },
        {
          "data": {"name": "boxes"},
          "transform": [{"filter": "datum.vis === 'SEEN'"}],
          "mark": {"type": "tick", "orient": "horizontal", "color": "#333333", "opacity": 1, "size": 22, "thickness": 3.5},
          "encoding": {"y": {"field": "hi", "type": "quantitative", "title": "Mean MEP amplitude (mV)"}}
        },
        {
          "data": {"name": "boxes"},
          "transform": [{"filter": "datum.vis === 'SEEN'"}],
          "mark": {"type": "bar", "width": {"band": 0.385}, "stroke": "#333333", "strokeWidth": 3.5, "opacity": 1},
          "encoding": {
            "y": {"field": "q1", "type": "quantitative", "title": "Mean MEP amplitude (mV)"},
            "y2": {"field": "q3"},
            "color": {"field": "cond", "type": "nominal",
              "scale": {"domain": ["Body fear", "Body neutral", "Lamp"], "range": ["#2f55d1", "#8fb0fa", "#d6e2fd"]},
              "legend": {"orient": "none", "legendX": 1236, "legendY": 64.5, "title": null, "symbolType": "square", "symbolSize": 3025, "symbolStrokeWidth": 0, "symbolStrokeColor": "transparent", "symbolOpacity": 1, "labelFont": "DejaVu Sans", "labelFontSize": 41, "labelColor": "#111111", "labelOffset": 19, "labelLimit": 600, "rowPadding": 14.5, "padding": 0}}
          }
        },
        {
          "data": {"name": "boxes"},
          "transform": [{"filter": "datum.vis === 'SEEN'"}],
          "mark": {"type": "tick", "orient": "horizontal", "color": "#333333", "opacity": 1, "size": 48, "thickness": 7},
          "encoding": {"y": {"field": "med", "type": "quantitative", "title": "Mean MEP amplitude (mV)"}}
        },
        {
          "data": {"name": "points"},
          "transform": [{"filter": "datum.vis === 'SEEN'"}],
          "mark": {"type": "point", "shape": "circle", "filled": false, "stroke": "#111111", "strokeWidth": 3.2, "size": 320, "opacity": 1, "xOffset": {"expr": "datum.j * 26"}},
          "encoding": {"y": {"field": "v", "type": "quantitative", "title": "Mean MEP amplitude (mV)"}}
        }
      ]
    }
  ],
  "spacing": 103,
  "bounds": "flush",
  "config": {
    "view": {"stroke": null},
    "axisY": {"grid": false, "labelFont": "Liberation Sans", "labelFontSize": 40, "labelColor": "#4d4d4d", "labelPadding": 7, "labelFlush": false, "labelOverlap": false, "tickSize": 25, "tickWidth": 2.5, "tickColor": "#222222", "domainColor": "#222222", "domainWidth": 2.5, "titleFont": "DejaVu Sans", "titleFontSize": 48, "titleFontWeight": "normal", "titleColor": "#1a1a1a", "titleX": -127, "titleAngle": 270, "titleBaseline": "alphabetic", "titleAlign": "center"}
  }
}
